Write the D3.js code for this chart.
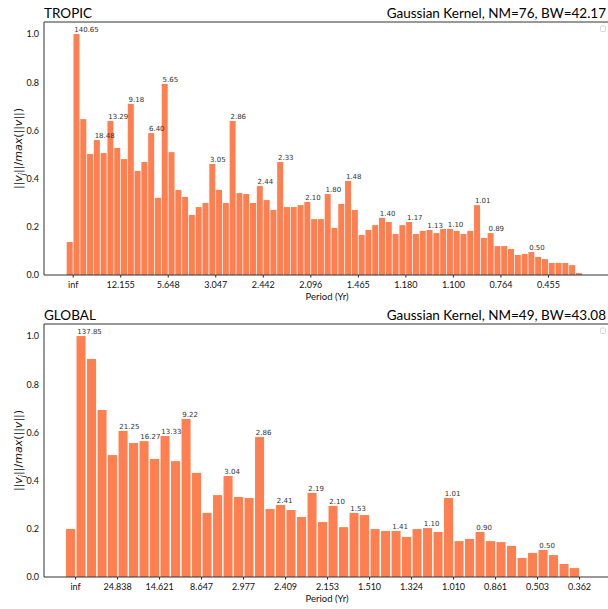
<!DOCTYPE html>
<html>
<head>
<meta charset="utf-8">
<script src="https://cdn.jsdelivr.net/npm/d3@7"></script>
<style>
    body { margin: 0; background: #fff; }
    .tick text { font-family: Lato, 'DejaVu Sans', sans-serif; font-size: 9px; fill: #111; }
</style>
</head>
<body>
<div id="chart"></div>
<script>
var width = 608,
    height = 609,
    barColor = '#ff7f50';

// TROPIC panel
var tropicVals = [0.137, 1.0, 0.647, 0.502, 0.560, 0.506, 0.639, 0.527, 0.481, 0.710,
    0.432, 0.469, 0.589, 0.320, 0.793, 0.510, 0.353, 0.324, 0.249, 0.282,
    0.299, 0.461, 0.353, 0.299, 0.639, 0.340, 0.336, 0.299, 0.369, 0.311,
    0.270, 0.469, 0.282, 0.282, 0.290, 0.303, 0.232, 0.232, 0.336, 0.195,
    0.295, 0.390, 0.270, 0.166, 0.187, 0.207, 0.237, 0.220, 0.170, 0.207,
    0.220, 0.170, 0.183, 0.187, 0.174, 0.191, 0.191, 0.183, 0.170, 0.183,
    0.290, 0.154, 0.174, 0.120, 0.120, 0.108, 0.083, 0.087, 0.095, 0.075,
    0.066, 0.050, 0.050, 0.050, 0.041, 0.008];
var tropicPeakIdx = [1, 4, 6, 9, 12, 14, 21, 24, 28, 31, 35, 38, 41, 46, 50, 53, 56, 60, 62, 68];
var tropicPeakLbl = ['140.65', '18.48', '13.29', '9.18', '6.40', '5.65', '3.05', '2.86', '2.44', '2.33',
    '2.10', '1.80', '1.48', '1.40', '1.17', '1.13', '1.10', '1.01', '0.89', '0.50'];
var tropicTickIdx = [0, 7, 14, 21, 28, 35, 42, 49, 56, 63, 70];
var tropicTickLbl = ['inf', '12.155', '5.648', '3.047', '2.442', '2.096', '1.465', '1.180', '1.100', '0.764', '0.455'];

// GLOBAL panel
var globalVals = [0.199, 1.0, 0.905, 0.693, 0.506, 0.606, 0.556, 0.564, 0.490, 0.585,
    0.481, 0.656, 0.432, 0.266, 0.340, 0.419, 0.332, 0.328, 0.581, 0.282,
    0.299, 0.278, 0.249, 0.349, 0.228, 0.295, 0.207, 0.266, 0.257, 0.199,
    0.191, 0.191, 0.166, 0.199, 0.203, 0.187, 0.328, 0.149, 0.158, 0.187,
    0.149, 0.145, 0.129, 0.079, 0.100, 0.112, 0.091, 0.054, 0.037];
var globalPeakIdx = [1, 5, 7, 9, 11, 15, 18, 20, 23, 25, 27, 31, 34, 36, 39, 45];
var globalPeakLbl = ['137.85', '21.25', '16.27', '13.33', '9.22', '3.04', '2.86', '2.41', '2.19', '2.10',
    '1.53', '1.41', '1.10', '1.01', '0.90', '0.50'];
var globalTickIdx = [0, 4, 8, 12, 16, 20, 24, 28, 32, 36, 40, 44, 48];
var globalTickLbl = ['inf', '24.838', '14.621', '8.647', '2.977', '2.409', '2.153', '1.510', '1.324', '1.010', '0.861', '0.503', '0.362'];

var yTicks = [0, 0.2, 0.4, 0.6, 0.8, 1.0];

var svg = d3.select('#chart').append('svg')
    .attr('width', width)
    .attr('height', height)

function drawPanel(p) {
    var left = 44, right = 608;
    var n = p.values.length;

    var x = d3.scaleLinear().domain([0, n]).range(p.xrange);
    var y = d3.scaleLinear().domain([0, 1.05]).range([p.bottom, p.top]);
    var pad = p.pad;

    var g = svg.append('g');

    // bars
    g.selectAll('rect.bar')
        .data(p.values)
        .enter().append('rect')
        .attr('class', 'bar')
        .attr('x', function(d, i) { return x(i + pad / 2); })
        .attr('width', function(d, i) { return x(i + 1 - pad / 2) - x(i + pad / 2); })
        .attr('y', function(d) { return y(d); })
        .attr('height', function(d) { return y(0) - y(d); })
        .attr('fill', barColor);

    // peak period labels
    g.selectAll('text.peak')
        .data(p.peakIdx)
        .enter().append('text')
        .attr('class', 'peak')
        .attr('x', function(d) { return x(d + pad / 2) + 0.8; })
        .attr('y', function(d) { return y(p.values[d]) - 2; })
        .attr('font-family', 'DejaVu Sans, sans-serif')
        .attr('font-size', 7)
        .attr('fill', '#333')
        .text(function(d, k) { return p.peakLbl[k]; });

    // x axis, ticks sit on right edge of every k-th bar
    var xAxis = d3.axisBottom(x)
        .tickValues(p.tickIdx.map(function(i) { return i + 1 - pad / 2; }))
        .tickFormat(function(d, k) { return p.tickLbl[k]; })
        .tickSize(2.5)
        .tickPadding(4);
    var xg = g.append('g')
        .attr('transform', 'translate(0,' + p.bottom + ')')
        .call(xAxis);
    xg.select('.domain').remove();
    xg.selectAll('.tick line').attr('stroke', '#222');

    var yAxis = d3.axisLeft(y)
        .tickValues(yTicks)
        .tickFormat(d3.format('.1f'))
        .tickSize(0)
        .tickPadding(5);
    var yg = g.append('g')
        .attr('transform', 'translate(' + left + ',0)')
        .call(yAxis);
    yg.select('.domain').remove();

    // spines
    g.append('path')
        .attr('d', 'M' + right + ',' + p.top + 'H' + left + 'V' + p.bottom + 'H' + right)
        .attr('fill', 'none')
        .attr('stroke', '#333')
        .attr('stroke-width', 1);

    // empty legend box
    g.append('rect')
        .attr('x', 600.5)
        .attr('y', p.top + 4)
        .attr('width', 5)
        .attr('height', 5.5)
        .attr('rx', 1)
        .attr('fill', '#fff')
        .attr('stroke', '#ccc')
        .attr('stroke-width', 0.8);

    // titles
    g.append('text')
        .attr('x', left)
        .attr('y', p.top - 4)
        .attr('font-family', 'Lato, sans-serif')
        .attr('font-size', 13.5)
        .attr('fill', '#000')
        .text(p.name);
    g.append('text')
        .attr('x', 606)
        .attr('y', p.top - 4)
        .attr('text-anchor', 'end')
        .attr('font-family', 'Lato, sans-serif')
        .attr('font-size', 13.5)
        .attr('fill', '#000')
        .text(p.subtitle);

    g.append('text')
        .attr('x', 327)
        .attr('y', p.bottom + 25)
        .attr('text-anchor', 'middle')
        .attr('font-family', 'Lato, sans-serif')
        .attr('font-size', 9.5)
        .attr('fill', '#111')
        .text('Period (Yr)');

    // y label ||v_j||/max(||v||)
    var yl = g.append('text')
        .attr('transform', 'translate(22,' + ((p.top + p.bottom) / 2) + ') rotate(-90)')
        .attr('text-anchor', 'middle')
        .attr('font-family', 'DejaVu Sans, sans-serif')
        .attr('font-size', 11)
        .attr('fill', '#111');
    yl.append('tspan').text('||');
    yl.append('tspan').attr('font-style', 'italic').text('v');
    yl.append('tspan').attr('font-style', 'italic').attr('font-size', 8).attr('dy', 2.5).text('j');
    yl.append('tspan').attr('dy', -2.5).text('||/');
    yl.append('tspan').attr('font-style', 'italic').text('max');
    yl.append('tspan').text('(||');
    yl.append('tspan').attr('font-style', 'italic').text('v');
    yl.append('tspan').text('||)');
}

drawPanel({
    top: 22, bottom: 275,
    xrange: [66.3, 582.3], pad: 0.12,
    values: tropicVals,
    peakIdx: tropicPeakIdx, peakLbl: tropicPeakLbl,
    tickIdx: tropicTickIdx, tickLbl: tropicTickLbl,
    name: 'TROPIC',
    subtitle: 'Gaussian Kernel, NM=76, BW=42.17'
});

drawPanel({
    top: 324, bottom: 577,
    xrange: [65.3, 579.8], pad: 0.14,
    values: globalVals,
    peakIdx: globalPeakIdx, peakLbl: globalPeakLbl,
    tickIdx: globalTickIdx, tickLbl: globalTickLbl,
    name: 'GLOBAL',
    subtitle: 'Gaussian Kernel, NM=49, BW=43.08'
});
</script>
</body>
</html>
